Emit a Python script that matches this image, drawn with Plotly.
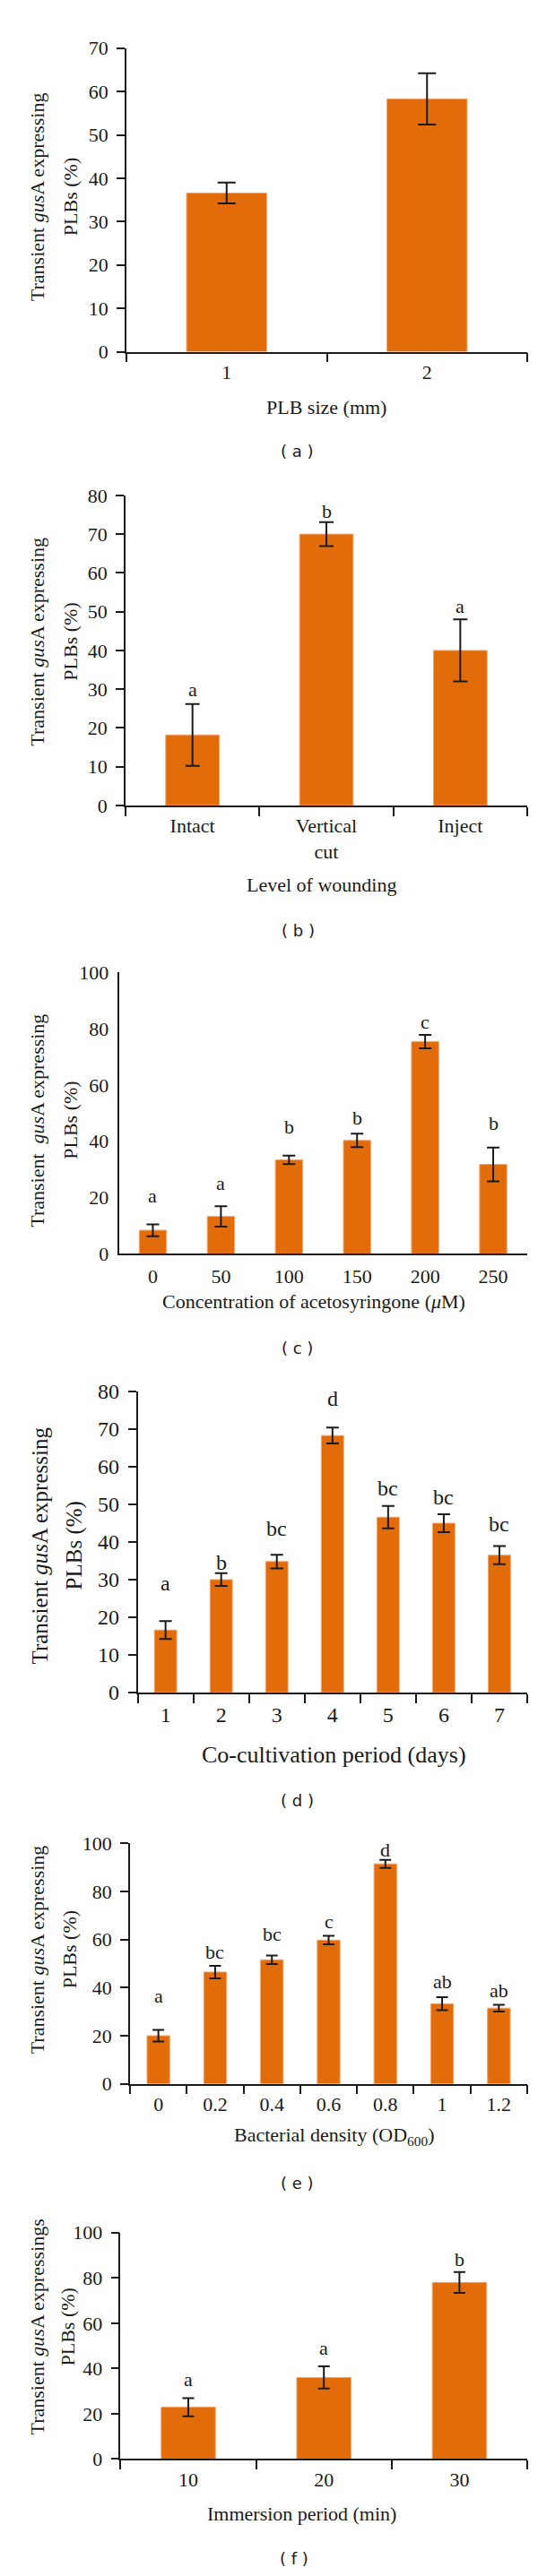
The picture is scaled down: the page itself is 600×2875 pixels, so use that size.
import plotly.graph_objects as go

W, H = 600, 2875

# ---------------- data ----------------
# (a) PLB size
a_cats = ["1", "2"]
a_vals = [36.6, 58.3]
a_err = [2.4, 5.9]
a_letters = []
a_letter_y = []

# (b) Level of wounding
b_cats = ["Intact", "Vertical<br>cut", "Inject"]
b_vals = [18.2, 70.0, 40.0]
b_err = [8.0, 3.1, 8.0]
b_letters = ["a", "b", "a"]
b_letter_y = [30.0, 76.0, 51.5]

# (c) Acetosyringone concentration
c_cats = ["0", "50", "100", "150", "200", "250"]
c_vals = [8.4, 13.3, 33.4, 40.3, 75.4, 31.8]
c_err = [2.1, 3.6, 1.5, 2.4, 2.4, 6.0]
c_letters = ["a", "a", "b", "b", "c", "b"]
c_letter_y = [20.8, 25.0, 45.1, 48.3, 82.3, 46.4]

# (d) Co-cultivation period
d_cats = ["1", "2", "3", "4", "5", "6", "7"]
d_vals = [16.6, 30.0, 34.8, 68.3, 46.6, 45.0, 36.5]
d_err = [2.4, 1.7, 1.8, 2.1, 3.0, 2.4, 2.4]
d_letters = ["a", "b", "bc", "d", "bc", "bc", "bc"]
d_letter_y = [29.1, 34.6, 43.6, 78.2, 54.2, 51.9, 44.8]

# (e) Bacterial density
e_cats = ["0", "0.2", "0.4", "0.6", "0.8", "1", "1.2"]
e_vals = [20.0, 46.5, 51.6, 59.8, 91.5, 33.3, 31.5]
e_err = [2.4, 2.6, 1.8, 1.8, 1.7, 2.7, 1.4]
e_letters = ["a", "bc", "bc", "c", "d", "ab", "ab"]
e_letter_y = [36.6, 55.0, 62.4, 67.4, 97.5, 42.7, 39.0]

# (f) Immersion period
f_cats = ["10", "20", "30"]
f_vals = [22.9, 36.0, 78.0]
f_err = [4.0, 4.9, 4.6]
f_letters = ["a", "a", "b"]
f_letter_y = [35.3, 49.0, 88.2]

# ---------------- styling / layout ----------------
SERIF = "Liberation Serif"
SANS = "DejaVu Sans"
BAR = "#E36C0A"
EDGE = "#F2A46A"
INK = "#1a1a1a"

panels = [
    dict(cats=a_cats, vals=a_vals, err=a_err, letters=a_letters, ly=a_letter_y,
         x0=133, x1=580, ytop=33, ybot=375, ymax=70, dtick=10, ticks=True,
         cap=10, tf=22, lf=22,
         ytitle1="Transient <i>gus</i>A expressing", ytitle2="PLBs (%)",
         yt1x=33, yt2x=70, ytc=201, ytf=22,
         xtitle="PLB size (mm)", xtx=356, xty=437, xtf=22,
         cap_text="( a )", capx=323, capy=487),
    dict(cats=b_cats, vals=b_vals, err=b_err, letters=b_letters, ly=b_letter_y,
         x0=132, x1=580, ytop=536.7, ybot=886, ymax=80, dtick=10, ticks=True,
         cap=8, tf=22, lf=22,
         ytitle1="Transient <i>gus</i>A expressing", ytitle2="PLBs (%)",
         yt1x=34, yt2x=71, ytc=702, ytf=22,
         xtitle="Level of wounding", xtx=350, xty=975, xtf=22,
         cap_text="( b )", capx=324, capy=1027),
    dict(cats=c_cats, vals=c_vals, err=c_err, letters=c_letters, ly=c_letter_y,
         x0=124.5, x1=580, ytop=1074, ybot=1391, ymax=100, dtick=20, ticks=False,
         cap=7, tf=22, lf=22,
         ytitle1="Transient  <i>gus</i>A expressing", ytitle2="PLBs (%)",
         yt1x=34, yt2x=71, ytc=1241, ytf=22,
         xtitle="Concentration of acetosyringone (<i>μ</i>M)", xtx=342, xty=1445, xtf=22,
         cap_text="( c )", capx=323, capy=1497),
    dict(cats=d_cats, vals=d_vals, err=d_err, letters=d_letters, ly=d_letter_y,
         x0=145.6, x1=580, ytop=1546, ybot=1885, ymax=80, dtick=10, ticks=True,
         cap=7, tf=24, lf=24,
         ytitle1="Transient <i>gus</i>A expressing", ytitle2="PLBs (%)",
         yt1x=36, yt2x=75, ytc=1720, ytf=25,
         xtitle="Co-cultivation period (days)", xtx=364, xty=1955, xtf=26,
         cap_text="( d )", capx=323, capy=2007),
    dict(cats=e_cats, vals=e_vals, err=e_err, letters=e_letters, ly=e_letter_y,
         x0=137, x1=580, ytop=2055, ybot=2325.7, ymax=100, dtick=20, ticks=True,
         cap=6.5, tf=22, lf=22,
         ytitle1="Transient <i>gus</i>A expressing", ytitle2="PLBs (%)",
         yt1x=33, yt2x=69, ytc=2175, ytf=22,
         xtitle="Bacterial density (OD<sub>600</sub>)", xtx=364, xty=2385, xtf=22,
         cap_text="( e )", capx=323, capy=2438),
    dict(cats=f_cats, vals=f_vals, err=f_err, letters=f_letters, ly=f_letter_y,
         x0=126.4, x1=580, ytop=2493.3, ybot=2748.3, ymax=100, dtick=20, ticks=True,
         cap=6.5, tf=22, lf=22,
         ytitle1="Transient <i>gus</i>A expressings", ytitle2="PLBs (%)",
         yt1x=33, yt2x=67, ytc=2600, ytf=22,
         xtitle="Immersion period (min)", xtx=328, xty=2810, xtf=22,
         cap_text="( f )", capx=320, capy=2860),
]

fig = go.Figure()
layout = dict(
    width=W, height=H,
    margin=dict(l=0, r=0, t=0, b=0),
    paper_bgcolor="white", plot_bgcolor="white",
    showlegend=False,
    font=dict(family=SERIF, color=INK),
)
annotations = []

for i, p in enumerate(panels, start=1):
    sfx = "" if i == 1 else str(i)
    xa, ya = "x" + sfx, "y" + sfx
    fig.add_trace(go.Bar(
        x=p["cats"], y=p["vals"], xaxis=xa, yaxis=ya, width=0.4,
        marker=dict(color=BAR, line=dict(color=EDGE, width=1)),
        error_y=dict(type="data", array=p["err"], visible=True,
                     color=INK, thickness=2, width=p["cap"]),
        hoverinfo="skip",
    ))
    n = len(p["cats"])
    layout["xaxis" + sfx] = dict(
        domain=[p["x0"] / W, p["x1"] / W], anchor=ya, type="category",
        categoryorder="array", categoryarray=p["cats"],
        range=[-0.5, n - 0.5], showline=True, linecolor=INK, linewidth=1.5,
        ticks="outside" if p["ticks"] else "", tickson="boundaries",
        ticklen=10, tickwidth=1.5, tickcolor=INK,
        tickfont=dict(family=SERIF, size=p["tf"], color=INK),
        showgrid=False, zeroline=False, fixedrange=True,
        ticklabelstandoff=2 if p["ticks"] else 4,
    )
    layout["yaxis" + sfx] = dict(
        domain=[1 - p["ybot"] / H, 1 - p["ytop"] / H], anchor=xa,
        range=[0, p["ymax"]], dtick=p["dtick"], tick0=0,
        showline=True, linecolor=INK, linewidth=1.5,
        ticks="outside" if p["ticks"] else "", ticklen=9, tickwidth=1.5, tickcolor=INK,
        tickfont=dict(family=SERIF, size=p["tf"], color=INK),
        showgrid=False, zeroline=False, fixedrange=True,
        ticklabelstandoff=5,
    )
    # significance letters (x given as category index)
    for j, (lab, ly) in enumerate(zip(p["letters"], p["ly"])):
        annotations.append(dict(
            x=j, y=ly, xref=xa, yref=ya, text=lab, showarrow=False,
            font=dict(family=SERIF, size=p["lf"], color=INK),
            xanchor="center", yanchor="middle",
        ))
    # y titles (two lines)
    for txt, xx in ((p["ytitle1"], p["yt1x"]), (p["ytitle2"], p["yt2x"])):
        annotations.append(dict(
            x=xx / W, y=1 - p["ytc"] / H, xref="paper", yref="paper",
            text=txt, textangle=-90, showarrow=False,
            font=dict(family=SERIF, size=p["ytf"], color=INK),
            xanchor="center", yanchor="middle",
        ))
    # x title
    annotations.append(dict(
        x=p["xtx"] / W, y=1 - p["xty"] / H, xref="paper", yref="paper",
        text=p["xtitle"], showarrow=False,
        font=dict(family=SERIF, size=p["xtf"], color=INK),
        xanchor="center", yanchor="middle",
    ))
    # panel caption
    annotations.append(dict(
        x=p["capx"] / W, y=1 - p["capy"] / H, xref="paper", yref="paper",
        text=p["cap_text"], showarrow=False,
        font=dict(family=SANS, size=18, color=INK),
        xanchor="center", yanchor="middle",
    ))

layout["annotations"] = annotations
fig.update_layout(**layout)
fig.write_html("out.html")
